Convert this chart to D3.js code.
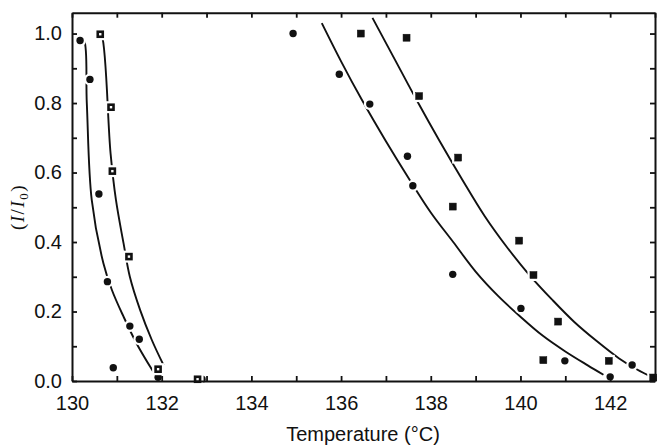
<!DOCTYPE html>
<html>
<head>
<meta charset="utf-8">
<script src="https://cdn.jsdelivr.net/npm/d3@7"></script>
<style>
  body { margin: 0; background: #fff; }
  text { font-family: "Liberation Sans", Arial, sans-serif; }
</style>
</head>
<body>
<div id="chart"></div>
<script>
// Left pair: filled circles (A) and open squares (B)
const tempA = [130.18, 130.40, 130.60, 130.79, 131.29, 131.50, 130.92, 131.92, 132.90];
const ratioA = [0.980, 0.868, 0.538, 0.286, 0.158, 0.120, 0.038, 0.011, 0.005];
const tempB = [130.63, 130.87, 130.90, 131.27, 131.92, 132.80];
const ratioB = [0.998, 0.788, 0.604, 0.358, 0.034, 0.005];

// Right pair: filled circles (C) and filled squares (D)
const tempC = [134.93, 135.96, 136.64, 137.48, 137.60, 138.49, 140.01, 140.99, 142.00, 142.49];
const ratioC = [1.000, 0.883, 0.797, 0.647, 0.562, 0.307, 0.209, 0.058, 0.012, 0.046];
const tempD = [136.44, 137.46, 137.74, 138.61, 138.49, 139.97, 140.29, 140.84, 140.51, 141.97, 142.96];
const ratioD = [1.000, 0.988, 0.820, 0.643, 0.502, 0.404, 0.305, 0.171, 0.060, 0.058, 0.010];

// Fitted curves
const fitTempA = [130.20, 130.27, 130.33, 130.44, 130.70, 130.89, 131.15, 131.44, 131.81];
const fitRatioA = [0.985, 0.980, 0.800, 0.521, 0.339, 0.262, 0.185, 0.108, 0.027];
const fitTempB = [130.62, 130.67, 130.86, 130.98, 131.15, 131.29, 131.52, 131.78, 132.04];
const fitRatioB = [0.998, 0.991, 0.655, 0.521, 0.396, 0.300, 0.204, 0.118, 0.046];
const fitTempC = [135.57, 136.00, 136.46, 137.00, 137.50, 138.00, 138.50, 139.00, 139.50, 140.00, 140.50, 141.00, 141.50, 141.85];
const fitRatioC = [1.030, 0.920, 0.810, 0.690, 0.585, 0.485, 0.400, 0.315, 0.245, 0.185, 0.130, 0.085, 0.045, 0.018];
const fitTempD = [136.70, 137.20, 137.70, 138.20, 138.70, 139.20, 139.70, 140.20, 140.70, 141.20, 141.70, 142.20, 142.60, 142.95];
const fitRatioD = [1.045, 0.925, 0.805, 0.690, 0.580, 0.475, 0.385, 0.305, 0.235, 0.170, 0.115, 0.065, 0.033, 0.010];

// Ticks
const xTicks = [130, 131, 132, 133, 134, 135, 136, 137, 138, 139, 140, 141, 142, 143];
const xLabels = [130, 132, 134, 136, 138, 140, 142];
const yTicks = [0, 0.1, 0.2, 0.3, 0.4, 0.5, 0.6, 0.7, 0.8, 0.9, 1.0];
const yLabels = [0, 0.2, 0.4, 0.6, 0.8, 1.0];

const width = 659;
const height = 446;

const svg = d3.select("#chart")
  .append("svg")
  .attr("width", width)
  .attr("height", height);

const x = d3.scaleLinear().domain([130, 143]).range([72, 655]);
const y = d3.scaleLinear().domain([0, 1.06]).range([381, 12.7]);

const zip = (xs, ys) => xs.map((v, i) => [v, ys[i]]);

// Curves
const line = d3.line()
  .x(d => x(d[0]))
  .y(d => y(d[1]))
  .curve(d3.curveCatmullRom.alpha(0.5));

[[fitTempA, fitRatioA], [fitTempB, fitRatioB], [fitTempC, fitRatioC], [fitTempD, fitRatioD]]
  .forEach(([xs, ys]) => {
    svg.append("path")
      .datum(zip(xs, ys))
      .attr("d", line)
      .attr("fill", "none")
      .attr("stroke", "#111")
      .attr("stroke-width", 1.9);
  });

// Markers
function drawCircles(xs, ys) {
  const pts = zip(xs, ys);
  svg.append("g").selectAll("circle")
    .data(pts).enter().append("circle")
    .attr("cx", d => x(d[0])).attr("cy", d => y(d[1]))
    .attr("r", 6).attr("fill", "#fff");
  svg.append("g").selectAll("circle")
    .data(pts).enter().append("circle")
    .attr("cx", d => x(d[0])).attr("cy", d => y(d[1]))
    .attr("r", 3.7).attr("fill", "#111");
}

function drawSquares(xs, ys, open) {
  const pts = zip(xs, ys);
  svg.append("g").selectAll("rect")
    .data(pts).enter().append("rect")
    .attr("x", d => x(d[0]) - 6).attr("y", d => y(d[1]) - 6)
    .attr("width", 12).attr("height", 12).attr("fill", "#fff");
  const s = open ? 5 : 7;
  svg.append("g").selectAll("rect")
    .data(pts).enter().append("rect")
    .attr("x", d => x(d[0]) - s / 2).attr("y", d => y(d[1]) - s / 2)
    .attr("width", s).attr("height", s)
    .attr("fill", open ? "#fff" : "#111")
    .attr("stroke", "#111")
    .attr("stroke-width", open ? 2.6 : 0.5);
}

drawCircles(tempA, ratioA);
drawSquares(tempB, ratioB, true);
drawCircles(tempC, ratioC);
drawSquares(tempD, ratioD, false);

// Axes (ticks point inward)
const fmtX = d => xLabels.includes(d) ? d : "";
const fmtY = d => yLabels.some(v => Math.abs(v - d) < 1e-9) ? d3.format(".1f")(d) : "";

const axes = [
  svg.append("g").attr("transform", "translate(0,381)")
    .call(d3.axisBottom(x).tickValues(xTicks).tickFormat(fmtX)
      .tickSizeInner(-5).tickSizeOuter(0).tickPadding(15)),
  svg.append("g").attr("transform", "translate(0,12.7)")
    .call(d3.axisTop(x).tickValues(xTicks).tickFormat("")
      .tickSizeInner(-5).tickSizeOuter(0)),
  svg.append("g").attr("transform", "translate(72,0)")
    .call(d3.axisLeft(y).tickValues(yTicks).tickFormat(fmtY)
      .tickSizeInner(-5).tickSizeOuter(0).tickPadding(10)),
  svg.append("g").attr("transform", "translate(655,0)")
    .call(d3.axisRight(y).tickValues(yTicks).tickFormat("")
      .tickSizeInner(-5).tickSizeOuter(0))
];

axes.forEach(g => {
  g.select(".domain").attr("stroke", "#111").attr("stroke-width", 2);
  g.selectAll(".tick line").attr("stroke", "#111").attr("stroke-width", 1.8);
  g.selectAll(".tick text")
    .attr("fill", "#111")
    .style("font-size", "20px")
    .style("font-family", "'Liberation Sans', Arial, sans-serif");
});

// Axis titles
svg.append("text")
  .attr("x", 363)
  .attr("y", 441)
  .attr("text-anchor", "middle")
  .attr("fill", "#111")
  .style("font-size", "20px")
  .text("Temperature (°C)");

const yTitle = svg.append("text")
  .attr("transform", "translate(24,207) rotate(-90)")
  .attr("text-anchor", "middle")
  .attr("fill", "#111")
  .attr("letter-spacing", 1.5)
  .style("font-family", "'Liberation Serif', 'DejaVu Serif', serif")
  .style("font-size", "19px");
yTitle.append("tspan").text("(");
yTitle.append("tspan").style("font-style", "italic").text("I");
yTitle.append("tspan").text("/");
yTitle.append("tspan").style("font-style", "italic").text("I");
yTitle.append("tspan").attr("dy", 4).style("font-size", "13px").text("0");
yTitle.append("tspan").attr("dy", -4).text(")");
</script>
</body>
</html>
